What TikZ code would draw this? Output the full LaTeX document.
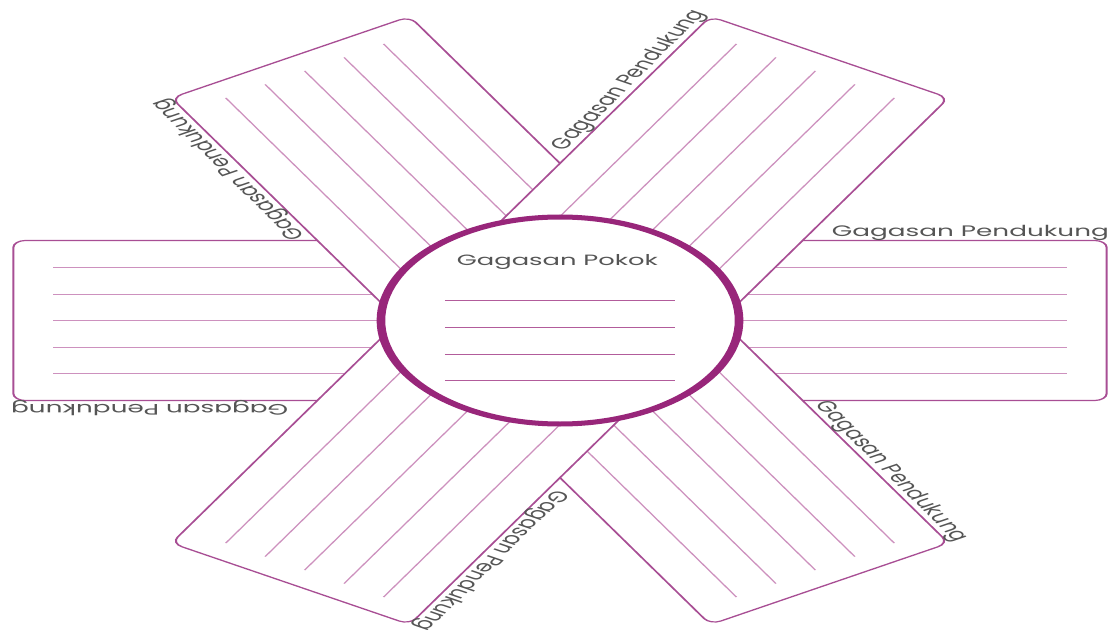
\documentclass[tikz,border=0pt]{standalone}
\usepackage{fontspec}
\setmainfont{Poppins}
\definecolor{circ}{RGB}{152,38,122}
\definecolor{edge}{RGB}{168,78,148}
\definecolor{rule}{RGB}{205,145,190}
\definecolor{txt}{RGB}{85,85,85}
\newcommand\drawarm[3]{%
  \begin{scope}[rotate=#1]
    \draw[armbox] (0,-80) rectangle (#2,80);
    \foreach \yy in {-53,-26.5,0,26.5,53} \draw[ruling] (0,\yy) -- (#3,\yy);
  \end{scope}}
\newcommand\drawlabel[3]{%
  \begin{scope}[rotate=#1]
    \node[lbl] (#3) at (#2+1.5,84) {Gagasan Pendukung};
  \end{scope}}
\begin{document}
\begin{tikzpicture}[x=1pt,y=1pt,
  armbox/.style={fill=white,draw=edge,line width=1.2pt,rounded corners=7pt},
  ruling/.style={draw=rule,line width=0.9pt},
  lbl/.style={font=\fontsize{15.2}{15.2}\selectfont,text=txt,inner sep=0pt,anchor=base east,transform shape}]
\useasboundingbox (-560,-313.5) rectangle (555,320.5);
\begin{scope}[transform canvas={xscale=1.73}]
  \drawarm{0}{316}{293}
  \drawarm{180}{316}{293}
  \drawarm{120.6}{306}{290}
  \drawarm{300.6}{306}{290}
  \drawarm{59.4}{306}{290}
  \drawarm{239.4}{306}{290}
  \drawlabel{0}{316}{labR}
  \drawlabel{180}{316}{labL}
  \drawlabel{120.6}{306}{labTL}
  \drawlabel{300.6}{306}{labBR}
  \drawlabel{59.4}{306}{labTR}
  \drawlabel{239.4}{306}{labBL}
  \fill[white] (0,0) circle (103);
  \fill[circ,even odd rule] (0,0) circle (106) (0,0) circle (101);
  \foreach \yy in {20.5,-6.5,-33.5,-59.5} \draw[draw=circ!75!white,line width=1pt] (-66.5,\yy) -- (66.5,\yy);
  \node[font=\fontsize{14.9}{14.9}\selectfont,text=txt,inner sep=0pt,anchor=base] (pokok) at (-1.5,55.5) {Gagasan Pokok};
\end{scope}
\end{tikzpicture}
\end{document}
